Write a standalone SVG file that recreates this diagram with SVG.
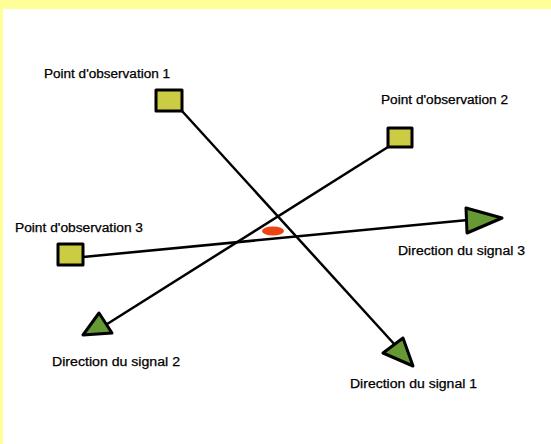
<svg xmlns="http://www.w3.org/2000/svg" width="551" height="444" viewBox="0 0 551 444">
<style>
.sq{fill:#cccc44;stroke:#000;stroke-width:3;stroke-linejoin:round}
.tri{fill:#669933;stroke:#000;stroke-width:3;stroke-linejoin:round}
.ln{stroke:#000;stroke-width:2.5;fill:none}
text{font-family:"Liberation Sans",Arial,sans-serif;font-size:12px;fill:#000;stroke:#000;stroke-width:0.25}
</style>
<rect x="0" y="0" width="551" height="444" fill="#fff"/>
<rect x="0" y="0" width="551" height="9" fill="#ffff99"/>
<rect x="0" y="0" width="3" height="444" fill="#ffff99"/>
<g id="connectors">
<line class="ln" x1="182" y1="111" x2="396" y2="346"/>
<line class="ln" x1="388" y1="147" x2="104" y2="326"/>
<line class="ln" x1="83" y1="257" x2="468" y2="220"/>
</g>
<g id="obs1"><rect class="sq" x="156" y="90" width="26" height="21"/><text x="44" y="78" textLength="126" lengthAdjust="spacingAndGlyphs">Point d'observation 1</text></g>
<g id="obs2"><rect class="sq" x="388" y="128" width="24" height="19"/><text x="381" y="104" textLength="127" lengthAdjust="spacingAndGlyphs">Point d'observation 2</text></g>
<g id="obs3"><rect class="sq" x="58" y="244" width="25" height="21"/><text x="15" y="232" textLength="128" lengthAdjust="spacingAndGlyphs">Point d'observation 3</text></g>
<g id="sig3"><polygon class="tri" points="466,208 467,233 502,218"/><text x="398" y="255" textLength="127" lengthAdjust="spacingAndGlyphs">Direction du signal 3</text></g>
<g id="sig2"><polygon class="tri" points="99,313 112,333 83,335"/><text x="52" y="366" textLength="128" lengthAdjust="spacingAndGlyphs">Direction du signal 2</text></g>
<g id="sig1"><polygon class="tri" points="403,338 383,353 413,366"/><text x="350" y="388" textLength="127" lengthAdjust="spacingAndGlyphs">Direction du signal 1</text></g>
<g id="source"><ellipse cx="273" cy="231" rx="11" ry="4.5" fill="#ee4411"/></g>
</svg>
